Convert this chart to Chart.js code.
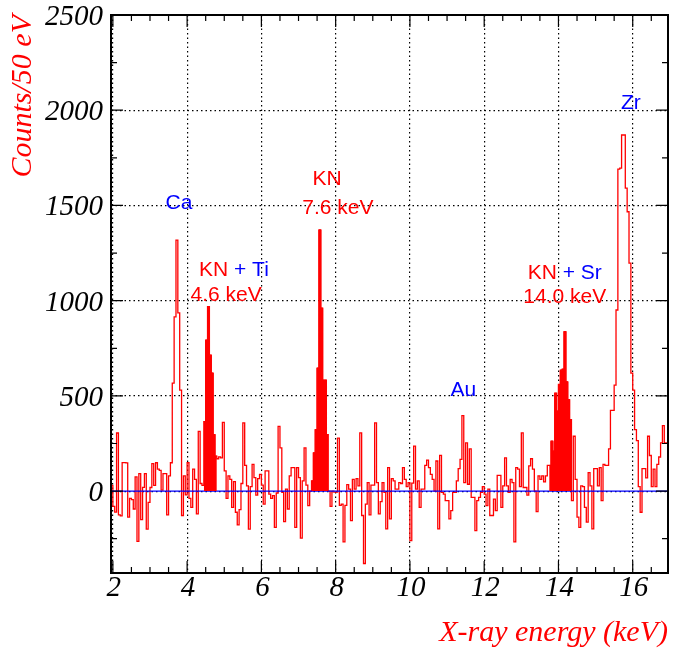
<!DOCTYPE html>
<html>
<head>
<meta charset="utf-8">
<script src="https://cdn.jsdelivr.net/npm/chart.js@4.4.1/dist/chart.umd.min.js"></script>
<style>
  html, body { margin: 0; padding: 0; background: #ffffff; }
  canvas { display: block; }
</style>
</head>
<body>
<canvas id="spectrum" width="686" height="652"></canvas>
<script>
// Histogram binning, keV
const binStart = 1.95;
const binWidth = 0.05;

// Background-subtracted counts per 50 eV bin
const counts = [
  30, -80, -110, 305, -125, -130, 150, 150, 148, -137,
  -38, -45, -94, 75, -264, 92, -150, 20, 92, -200,
  -59, 19, 144, 30, 149, 115, 109, 5, 92, 92,
  -125, 80, 149, 567, 915, 1318, 936, 530, -128, 80,
  -20, 149, -38, -85, 115, 62, -120, 314, 40, 30,
  365, 793, 968, 714, 620, 297, 184, 170, 180, 175,
  361, 106, -38, 80, 62, -85, 50, -111, -177, -97,
  40, 358, 135, 28, -200, 24, 140, 71, -21, 66,
  88, 31, -68, 106, 106, -16, -38, -24, -190, -10,
  340, 227, -7, -160, 10, -94, 80, 123, 123, -190,
  123, 71, -247, 54, 227, 31, -76, 0, 54, 201,
  323, 646, 1371, 961, 583, 583, 297, 0, -80, 0,
  -5, -5, 278, -75, -68, -267, -75, 34, 10, -155,
  62, 10, 66, 28, 306, -128, -380, -68, 45, -125,
  31, 31, 358, 45, -120, -55, 45, -7, -198, 123,
  -146, 66, 54, 10, 10, 45, 40, 123, 62, 24,
  45, -260, 42, 236, 10, 54, -85, 10, 10, 135,
  163, 123, 88, 62, 0, 158, -198, 188, -7, -16,
  -50, -50, -146, -102, -7, -7, 54, 118, 167, 396,
  45, 253, 36, 222, -33, -33, -207, -50, -33, -7,
  24, -16, -76, 10, -128, -128, -42, -102, 83, 83,
  -85, 28, 175, 28, -7, 62, 45, -267, 123, 115,
  24, 306, 19, 19, -21, 132, 170, 115, 0, -108,
  80, 62, 80, 48, 80, 135, 135, 262, 210, 514,
  420, 560, 635, 640, 837, 574, 480, 375, -50, 288,
  62, -137, -190, 28, 24, -85, -163, 97, 28, -198,
  118, 118, 28, 123, -50, 140, 135, 135, 222, 424,
  424, 557, 951, 1691, 1696, 1870, 1870, 1591, 1467, 1197,
  620, 530, 323, 265, 24, -111, 118, 118, 69, 288,
  187, 24, 115, 24, 140, 179, 253, 344, 253, 253
];

// Energy windows of the KN lines (keV), drawn filled
const knLow  = [4.45, 7.35, 13.75];
const knHigh = [4.80, 7.80, 14.35];

// Axis ranges and labelled ticks
const xRange = [1.95, 16.95];
const yRange = [-430, 2500];
const xTickValues = [2, 4, 6, 8, 10, 12, 14, 16];
const yTickValues = [0, 500, 1000, 1500, 2000, 2500];
const xMinorStep = 0.5;
const yMinorStep = 250;

const RED = '#ff0000';
const BLUE = '#0000ff';

// Peak labels, anchored in data coordinates
const peakLabels = [
  { parts: [['Ca', BLUE]], x: 3.78, y: 1513 },
  { parts: [['KN', RED], [' + Ti', BLUE]], x: 5.26, y: 1161 },
  { parts: [['4.6 keV', RED]], x: 5.05, y: 1030 },
  { parts: [['KN', RED]], x: 7.77, y: 1639 },
  { parts: [['7.6 keV', RED]], x: 8.06, y: 1487 },
  { parts: [['Au', BLUE]], x: 11.44, y: 531 },
  { parts: [['KN', RED], [' + Sr', BLUE]], x: 14.17, y: 1145 },
  { parts: [['14.0 keV', RED]], x: 14.17, y: 1017 },
  { parts: [['Zr', BLUE]], x: 15.95, y: 2035 }
];

const edge = i => +(binStart + i * binWidth).toFixed(4);

// Step outline: one point per bin's low edge plus the closing edge
function stepPoints(values, first, last) {
  const pts = [];
  for (let i = first; i <= last; i++) pts.push({ x: edge(i), y: values[i] });
  pts.push({ x: edge(last + 1), y: values[last] });
  return pts;
}

const spectrumPoints = stepPoints(counts, 0, counts.length - 1);

const knDatasets = knLow.map((lo, k) => {
  const first = Math.round((lo - binStart) / binWidth);
  const last = Math.round((knHigh[k] - binStart) / binWidth) - 1;
  return {
    data: stepPoints(counts, first, last),
    stepped: true,
    borderColor: RED,
    borderWidth: 1,
    backgroundColor: RED,
    fill: 'origin',
    pointRadius: 0,
    order: 0
  };
});

const framePlugin = {
  id: 'rootFrame',
  afterDraw(chart) {
    const { ctx, chartArea: a, scales } = chart;
    const xs = scales.x, ys = scales.y;
    ctx.save();

    // ticks on all four sides, pointing inward
    ctx.strokeStyle = '#000';
    ctx.lineWidth = 1.2;
    const majorLen = 12, minorLen = 6;
    ctx.beginPath();
    for (let v = xTickValues[0]; v <= xRange[1] + 1e-9; v += xMinorStep) {
      const px = xs.getPixelForValue(v);
      const isMajor = xTickValues.some(t => Math.abs(t - v) < 1e-6);
      const len = isMajor ? majorLen : minorLen;
      ctx.moveTo(px, a.bottom); ctx.lineTo(px, a.bottom - len);
      ctx.moveTo(px, a.top); ctx.lineTo(px, a.top + len);
    }
    for (let v = -yMinorStep; v <= yRange[1] + 1e-9; v += yMinorStep) {
      if (v < yRange[0]) continue;
      const py = ys.getPixelForValue(v);
      const isMajor = yTickValues.includes(v);
      const len = isMajor ? majorLen : minorLen;
      ctx.moveTo(a.left, py); ctx.lineTo(a.left + len, py);
      ctx.moveTo(a.right, py); ctx.lineTo(a.right - len, py);
    }
    ctx.stroke();

    // frame
    ctx.lineWidth = 2;
    ctx.strokeRect(a.left, a.top, a.right - a.left, a.bottom - a.top);

    // tick labels
    ctx.fillStyle = '#000';
    ctx.font = 'italic 29px "Liberation Serif", "Times New Roman", serif';
    ctx.textAlign = 'center';
    ctx.textBaseline = 'alphabetic';
    xTickValues.forEach(v => ctx.fillText(String(v), xs.getPixelForValue(v) + 1, a.bottom + 23));
    ctx.textAlign = 'right';
    yTickValues.forEach(v => ctx.fillText(String(v), a.left - 8, ys.getPixelForValue(v) + 10));

    // axis titles
    ctx.fillStyle = RED;
    ctx.font = 'italic 30px "Liberation Serif", "Times New Roman", serif';
    ctx.textAlign = 'right';
    ctx.fillText('X-ray energy (keV)', a.right, 641);
    ctx.save();
    ctx.translate(31, a.top);
    ctx.rotate(-Math.PI / 2);
    ctx.textAlign = 'right';
    ctx.textBaseline = 'alphabetic';
    ctx.fillText('Counts/50 eV', 0, 0);
    ctx.restore();

    // peak labels
    ctx.font = '21px "Liberation Sans", Arial, sans-serif';
    ctx.textBaseline = 'middle';
    ctx.textAlign = 'left';
    peakLabels.forEach(lab => {
      const total = lab.parts.reduce((s, p) => s + ctx.measureText(p[0]).width, 0);
      let px = xs.getPixelForValue(lab.x) - total / 2;
      const py = ys.getPixelForValue(lab.y);
      lab.parts.forEach(([txt, col]) => {
        ctx.fillStyle = col;
        ctx.fillText(txt, px, py);
        px += ctx.measureText(txt).width;
      });
    });

    ctx.restore();
  }
};

new Chart(document.getElementById('spectrum'), {
  type: 'line',
  data: {
    datasets: [
      ...knDatasets,
      {
        data: [{ x: xRange[0], y: 0 }, { x: xRange[1], y: 0 }],
        borderColor: BLUE,
        borderWidth: 1.3,
        pointRadius: 0,
        fill: false,
        order: 1
      },
      {
        data: spectrumPoints,
        stepped: true,
        borderColor: RED,
        borderWidth: 1.3,
        pointRadius: 0,
        fill: false,
        order: 2
      }
    ]
  },
  options: {
    responsive: false,
    animation: false,
    devicePixelRatio: 1,
    layout: { padding: { left: 111, right: 18, top: 15, bottom: 79 } },
    plugins: { legend: { display: false }, tooltip: { enabled: false } },
    elements: { line: { tension: 0 } },
    scales: {
      x: {
        type: 'linear',
        min: xRange[0],
        max: xRange[1],
        ticks: { display: false },
        grid: { color: '#000', lineWidth: 1.2, drawTicks: false },
        border: { display: false, dash: [1.5, 3] },
        afterBuildTicks: axis => { axis.ticks = xTickValues.map(v => ({ value: v })); }
      },
      y: {
        type: 'linear',
        min: yRange[0],
        max: yRange[1],
        ticks: { display: false },
        grid: { color: '#000', lineWidth: 1.2, drawTicks: false },
        border: { display: false, dash: [1.5, 3] },
        afterBuildTicks: axis => { axis.ticks = yTickValues.map(v => ({ value: v })); }
      }
    }
  },
  plugins: [framePlugin]
});
</script>
</body>
</html>
